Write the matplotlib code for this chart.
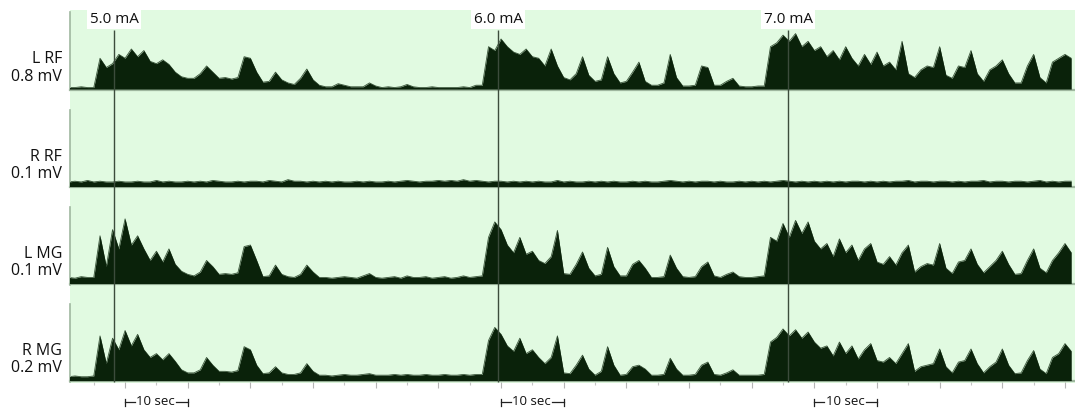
import numpy as np
import matplotlib
matplotlib.use("Agg")
import matplotlib.pyplot as plt
from matplotlib.ticker import MultipleLocator

plt.rcParams['font.family'] = ['Open Sans', 'DejaVu Sans']

# ---------------- data ----------------
# envelope amplitude, sampled every 1 s starting at t = -9 s,
# expressed as a fraction of each channel's calibration value
t_start = -9
channel_names = ["L RF", "R RF", "L MG", "R MG"]
calibrations = ["0.8 mV", "0.1 mV", "0.1 mV", "0.2 mV"]

l_rf = [0.02, 0.02, 0.03, 0.02, 0.02,
        0.40, 0.28, 0.33, 0.45, 0.40,
        0.52, 0.42, 0.50, 0.36, 0.33, 0.38, 0.32, 0.22, 0.16, 0.14,
        0.14, 0.20, 0.30, 0.22, 0.14, 0.15, 0.13, 0.15, 0.42, 0.40,
        0.22, 0.09, 0.10, 0.22, 0.12, 0.08, 0.06, 0.14, 0.26, 0.12,
        0.05, 0.03, 0.03, 0.07, 0.05, 0.03, 0.03, 0.03, 0.08, 0.04,
        0.02, 0.03, 0.02, 0.03, 0.06, 0.03, 0.02, 0.02, 0.03, 0.02,
        0.02, 0.02, 0.02, 0.03, 0.02, 0.05, 0.05, 0.55, 0.50, 0.65,
        0.55, 0.48, 0.45, 0.52, 0.42, 0.40, 0.30, 0.52, 0.30, 0.15,
        0.12, 0.20, 0.42, 0.18, 0.10, 0.12, 0.42, 0.20, 0.08, 0.10,
        0.22, 0.35, 0.10, 0.05, 0.05, 0.08, 0.45, 0.15, 0.04, 0.04,
        0.05, 0.30, 0.28, 0.05, 0.05, 0.10, 0.14, 0.04, 0.03, 0.03,
        0.04, 0.04, 0.55, 0.60, 0.70, 0.62, 0.72, 0.55, 0.62, 0.50,
        0.55, 0.42, 0.50, 0.38, 0.55, 0.40, 0.30, 0.45, 0.32, 0.48,
        0.30, 0.35, 0.25, 0.62, 0.20, 0.15, 0.25, 0.30, 0.28, 0.55,
        0.18, 0.14, 0.30, 0.28, 0.50, 0.20, 0.10, 0.25, 0.30, 0.38,
        0.20, 0.08, 0.08, 0.30, 0.45, 0.15, 0.08, 0.35, 0.40, 0.45, 0.40]

r_rf = [0.06, 0.07, 0.06, 0.08, 0.06, 0.07, 0.06, 0.06, 0.07, 0.06,
        0.06, 0.07, 0.06, 0.06, 0.08, 0.06, 0.07, 0.06, 0.06, 0.07,
        0.06, 0.07, 0.06, 0.08, 0.07, 0.06, 0.06, 0.07, 0.06, 0.07,
        0.07, 0.06, 0.08, 0.07, 0.06, 0.09, 0.07, 0.07, 0.06, 0.07,
        0.06, 0.07, 0.06, 0.07, 0.06, 0.06, 0.07, 0.06, 0.07, 0.06,
        0.06, 0.07, 0.06, 0.07, 0.08, 0.07, 0.06, 0.07, 0.07, 0.08,
        0.07, 0.08, 0.07, 0.09, 0.07, 0.08, 0.07, 0.06, 0.07, 0.07,
        0.06, 0.07, 0.06, 0.07, 0.06, 0.07, 0.06, 0.06, 0.08, 0.06,
        0.07, 0.06, 0.06, 0.07, 0.06, 0.07, 0.06, 0.07, 0.06, 0.06,
        0.07, 0.06, 0.07, 0.06, 0.06, 0.07, 0.08, 0.07, 0.06, 0.07,
        0.06, 0.07, 0.07, 0.06, 0.07, 0.06, 0.06, 0.07, 0.06, 0.07,
        0.06, 0.07, 0.06, 0.07, 0.08, 0.07, 0.06, 0.07, 0.06, 0.07,
        0.06, 0.07, 0.06, 0.07, 0.06, 0.07, 0.07, 0.06, 0.07, 0.06,
        0.07, 0.06, 0.07, 0.07, 0.08, 0.06, 0.07, 0.07, 0.06, 0.07,
        0.07, 0.06, 0.07, 0.06, 0.07, 0.07, 0.08, 0.06, 0.07, 0.07,
        0.06, 0.07, 0.07, 0.06, 0.07, 0.08, 0.06, 0.07, 0.06, 0.07, 0.07]

l_mg = [0.08, 0.07, 0.09, 0.08, 0.08,
        0.62, 0.22, 0.70, 0.45, 0.84,
        0.50, 0.62, 0.45, 0.30, 0.42, 0.28, 0.45, 0.25, 0.16, 0.12,
        0.10, 0.15, 0.30, 0.22, 0.12, 0.13, 0.12, 0.14, 0.48, 0.50,
        0.30, 0.09, 0.10, 0.24, 0.12, 0.09, 0.08, 0.12, 0.24, 0.15,
        0.08, 0.08, 0.07, 0.08, 0.09, 0.08, 0.07, 0.10, 0.13, 0.08,
        0.07, 0.08, 0.09, 0.07, 0.10, 0.08, 0.08, 0.09, 0.07, 0.08,
        0.09, 0.07, 0.08, 0.10, 0.08, 0.09, 0.10, 0.60, 0.80, 0.70,
        0.50, 0.40, 0.60, 0.38, 0.42, 0.30, 0.26, 0.35, 0.69, 0.13,
        0.12, 0.25, 0.41, 0.20, 0.10, 0.12, 0.47, 0.22, 0.10, 0.10,
        0.25, 0.30, 0.20, 0.08, 0.08, 0.09, 0.37, 0.20, 0.09, 0.08,
        0.09, 0.22, 0.28, 0.10, 0.08, 0.12, 0.15, 0.09, 0.08, 0.08,
        0.09, 0.10, 0.60, 0.55, 0.78, 0.60, 0.82, 0.65, 0.80, 0.55,
        0.45, 0.52, 0.35, 0.58, 0.40, 0.50, 0.30, 0.45, 0.52, 0.28,
        0.25, 0.35, 0.24, 0.40, 0.50, 0.15, 0.22, 0.26, 0.24, 0.52,
        0.20, 0.13, 0.28, 0.30, 0.45, 0.25, 0.14, 0.22, 0.30, 0.42,
        0.25, 0.12, 0.13, 0.30, 0.45, 0.20, 0.14, 0.30, 0.40, 0.52, 0.40]

r_mg = [0.05, 0.06, 0.05, 0.05, 0.06,
        0.58, 0.22, 0.55, 0.40, 0.65,
        0.45, 0.60, 0.40, 0.30, 0.35, 0.27, 0.35, 0.25, 0.14, 0.10,
        0.10, 0.14, 0.30, 0.20, 0.12, 0.12, 0.11, 0.13, 0.44, 0.40,
        0.20, 0.09, 0.10, 0.18, 0.10, 0.08, 0.08, 0.10, 0.22, 0.12,
        0.07, 0.07, 0.06, 0.07, 0.08, 0.07, 0.07, 0.08, 0.09, 0.07,
        0.07, 0.07, 0.08, 0.07, 0.08, 0.07, 0.07, 0.08, 0.07, 0.07,
        0.08, 0.07, 0.07, 0.08, 0.07, 0.08, 0.08, 0.52, 0.69, 0.60,
        0.45, 0.38, 0.55, 0.35, 0.40, 0.30, 0.22, 0.30, 0.58, 0.10,
        0.09, 0.20, 0.33, 0.15, 0.07, 0.12, 0.44, 0.20, 0.07, 0.08,
        0.18, 0.20, 0.15, 0.07, 0.07, 0.08, 0.29, 0.15, 0.07, 0.07,
        0.08, 0.20, 0.24, 0.08, 0.07, 0.10, 0.14, 0.07, 0.07, 0.07,
        0.07, 0.08, 0.50, 0.56, 0.67, 0.58, 0.66, 0.55, 0.63, 0.50,
        0.42, 0.45, 0.32, 0.50, 0.35, 0.45, 0.28, 0.40, 0.48, 0.26,
        0.24, 0.30, 0.22, 0.35, 0.48, 0.12, 0.18, 0.20, 0.22, 0.41,
        0.18, 0.10, 0.24, 0.26, 0.41, 0.22, 0.10, 0.18, 0.24, 0.41,
        0.20, 0.09, 0.10, 0.26, 0.39, 0.15, 0.09, 0.30, 0.35, 0.48, 0.38]

stim_times = [-1.75, 59.55, 105.8]
stim_labels = ["5.0 mA", "6.0 mA", "7.0 mA"]
scalebar_starts = [0, 60, 110]
scalebar_len = 10
scalebar_text = "10 sec"

# ---------------- layout / style ----------------
W, H = 1075, 408
X0, X1 = 69.5, 1075
T0, T1 = -8.87, 151.6
PANEL_H = 78
panel_bottoms = [90, 187.5, 284.5, 381.5]

BG = '#e1fae1'
TRACE = '#0a220a'
AXLINE = '#9fb79f'
STIM = '#3c4c3c'

def fx(px):
    return px / W

def fy(py):
    return 1 - py / H

fig = plt.figure(figsize=(W / 100, H / 100), dpi=100)

bg = fig.add_axes([fx(X0), fy(382.5), fx(X1 - X0), (382.5 - 10) / H])
bg.set_facecolor(BG)
bg.set_xticks([]); bg.set_yticks([])
for s in bg.spines.values():
    s.set_visible(False)

series = [l_rf, r_rf, l_mg, r_mg]
for i, (name, cal, vals, bot) in enumerate(zip(channel_names, calibrations, series, panel_bottoms)):
    ax = fig.add_axes([fx(X0), fy(bot), fx(X1 - X0), PANEL_H / H])
    ax.patch.set_alpha(0)
    vals = np.asarray(vals)
    tt = np.arange(len(vals)) + t_start
    ax.fill_between(tt, 0, vals, color=TRACE, lw=0, zorder=3)
    ax.plot(tt, vals, color='#3a553a', lw=0.6, zorder=2)
    ax.set_xlim(T0, T1)
    ax.set_ylim(-0.012, 1)
    ax.axhline(-0.006, color=AXLINE, lw=1.6, zorder=1, clip_on=False)
    for k in ['top', 'right', 'bottom']:
        ax.spines[k].set_visible(False)
    ax.spines['left'].set_color(AXLINE)
    ax.spines['left'].set_linewidth(1.2)
    ax.set_yticks([])
    if i == len(series) - 1:
        ax.xaxis.set_major_locator(MultipleLocator(10))
        ax.xaxis.set_minor_locator(MultipleLocator(5))
        ax.tick_params(axis='x', which='major', length=4, width=0.8, color='#b5b5b5', labelbottom=False, direction='out')
        ax.tick_params(axis='x', which='minor', length=2, width=0.8, color='#c5c5c5', direction='out')
    else:
        ax.set_xticks([])
    fig.text(fx(62), fy(bot - 22), f"{name}\n{cal}", ha='right', va='center',
             fontsize=11.5, linespacing=1.12, color='#111111')

ov = fig.add_axes([fx(X0), 0, fx(X1 - X0), 1])
ov.patch.set_alpha(0)
ov.set_xlim(T0, T1)
ov.set_ylim(H, 0)
ov.axis('off')
ov.vlines(stim_times, 30, 381.5, color=STIM, lw=1.0, zorder=5)
for ts, lab in zip(stim_times, stim_labels):
    ov.text(ts, 19.5, lab, ha='center', va='center', fontsize=11, color='#111111',
            bbox=dict(facecolor='white', edgecolor='none', pad=1.8), zorder=6)

for s0 in scalebar_starts:
    y = 402
    ov.plot([s0, s0 + 1.6], [y, y], color='#222222', lw=0.9)
    ov.plot([s0 + 8.2, s0 + scalebar_len], [y, y], color='#222222', lw=0.9)
    ov.plot([s0, s0], [y - 3.5, y + 3.5], color='#222222', lw=0.9)
    ov.plot([s0 + scalebar_len] * 2, [y - 3.5, y + 3.5], color='#222222', lw=0.9)
    ov.text(s0 + scalebar_len / 2 - 0.1, y - 0.5, scalebar_text, ha='center', va='center',
            fontsize=9.5, color='#111111')

fig.savefig("out.png", dpi=100)
